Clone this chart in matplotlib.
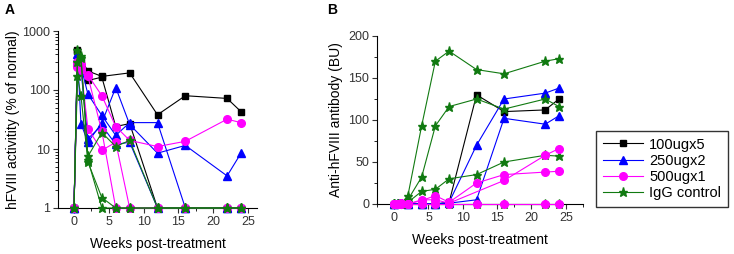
import numpy as np
import matplotlib
matplotlib.use("Agg")
import matplotlib.pyplot as plt
from matplotlib.ticker import MultipleLocator, NullFormatter

plt.rcParams['font.family'] = ['Liberation Sans', 'DejaVu Sans']

# weeks post-treatment
weeks = [0, 0.5, 1, 2, 4, 6, 8, 12, 16, 22, 24]

# panel A: hFVIII activity (% of normal), one list per mouse (nan = no point)
nan = np.nan
act_100 = [[1, 480, 330, 210, 170, nan, 195, 38, 80, 72, 43],
           [1, 450, 260, 145, 165, 24, 27, 1, 1, 1, 1]]
act_250 = [[1, 400, 27, 13, 28, 110, 26, 8.5, 11.5, 3.5, 8.5],
           [1, 350, 250, 85, 37, 17, 28, 28, 1, 1, 1],
           [1, 300, 220, 15, 25, 12, 13, 1, 1, 1, 1]]
act_500 = [[1, 250, 280, 180, 80, 24, 14, 11, 13.5, 32, 28],
           [1, 300, 240, 22, 9.5, 13, 1, 1, 1, 1, 1],
           [1, 280, 220, 170, 20, 1, 1, 1, 1, 1, 1]]
act_igg = [[1, 480, 350, 7.5, 19, 11, 14, 1, 1, 1, 1],
           [1, 170, 80, 6, 1.5, 1, 1, 1, 1, 1, 1],
           [1, 300, 380, 6.5, 1, 1, 1, 1, 1, 1, 1]]

# panel B: anti-hFVIII antibody (BU)
ab_100 = [[0, 0, 0, 0, 0, 0, 2, 130, 110, 112, 125]]
ab_250 = [[0, 1, 1, 0, 0, 0, 2, 70, 125, 132, 138],
          [0, 1, 1, 0, 0, 0, 1, 5, 102, 95, 105]]
ab_500 = [[0, 0, 1, 0, 4, 10, 2, 25, 35, 38, 39],
          [0, 0, 0, 0, 5, 5, 1, nan, 28, 58, 66],
          [0, 0, 0, 0, 0, 0, 0, 0, 0, 0, 0]]
ab_igg = [[0, 0, 0, 10, 93, 170, 182, 160, 155, 170, 173],
          [0, 0, 0, 5, 32, 93, 116, 125, 113, 125, 116],
          [0, 0, 0, 2, 15, 17.5, 30, 35, 50, 58, 57],
          [0, 0, 0, 0, 0, 0, 0, 0, 0, 0, 0]]

labels = ["100ugx5", "250ugx2", "500ugx1", "IgG control"]
colors = ["black", "#0000ff", "#ff00ff", "#117a11"]
markers = ["s", "^", "o", "*"]
msizes = [5, 5.5, 5.5, 6.5]

fig = plt.figure(figsize=(7.34, 2.54), dpi=100)
axA = fig.add_axes([58/734, 1-208/254, 199/734, 177/254])
axB = fig.add_axes([377/734, 1-204/254, 206/734, 168/254])


def draw(ax, groups, zorders):
    hs = []
    for g, col, mk, ms, z in zip(groups, colors, markers, msizes, zorders):
        for vals in g:
            v = np.array(vals, dtype=float)
            x = np.array(weeks, dtype=float)
            ok = ~np.isnan(v)
            h, = ax.plot(x[ok], v[ok], color=col, lw=0.8, marker=mk, ms=ms,
                         mec=col, mfc=col, clip_on=False, zorder=z)
        hs.append(h)
    return hs


draw(axA, [act_100, act_250, act_500, act_igg], [3, 3, 3, 3])
hs = draw(axB, [ab_100, ab_250, ab_500, ab_igg], [3, 3, 4, 3])

for ax in (axA, axB):
    ax.spines['top'].set_visible(False)
    ax.spines['right'].set_visible(False)
    ax.spines['left'].set_linewidth(0.8)
    ax.spines['bottom'].set_linewidth(0.8)
    ax.tick_params(labelsize=9, direction='out', length=3.5, width=0.8,
                   colors='#333333', pad=2)
    ax.tick_params(which='minor', length=2, width=0.6)
    ax.xaxis.set_major_locator(MultipleLocator(5))
    ax.xaxis.set_minor_locator(MultipleLocator(2.5))
    ax.set_xlabel("Weeks post-treatment", fontsize=10, labelpad=7)

axA.set_yscale('log')
axA.set_ylim(1, 1000)
axA.set_xlim(-2.3, 26.3)
axA.set_yticks([1, 10, 100, 1000])
axA.set_yticklabels(["1", "10", "100", "1000"])
axA.yaxis.set_minor_formatter(NullFormatter())
axA.set_ylabel("hFVIII activitity (% of normal)", fontsize=10, labelpad=2)

axB.set_ylim(0, 200)
axB.set_xlim(-2.5, 27.5)
axB.yaxis.set_major_locator(MultipleLocator(50))
axB.yaxis.set_minor_locator(MultipleLocator(25))
axB.set_ylabel("Anti-hFVIII antibody (BU)", fontsize=10, labelpad=4)

fig.text(5/734, 1-10/254, "A", fontsize=10, fontweight='bold', va='center')
fig.text(327/734, 1-10/254, "B", fontsize=10, fontweight='bold', va='center')

leg = fig.legend(hs, labels, loc='upper left', bbox_to_anchor=(596/734, 1-131/254),
                 fontsize=10.5, frameon=True, fancybox=False, edgecolor='black',
                 handlelength=2.8, borderpad=0.45, labelspacing=0.15, handletextpad=0.4,
                 borderaxespad=0)
leg.get_frame().set_linewidth(1.0)

fig.savefig("out.png", dpi=100)
